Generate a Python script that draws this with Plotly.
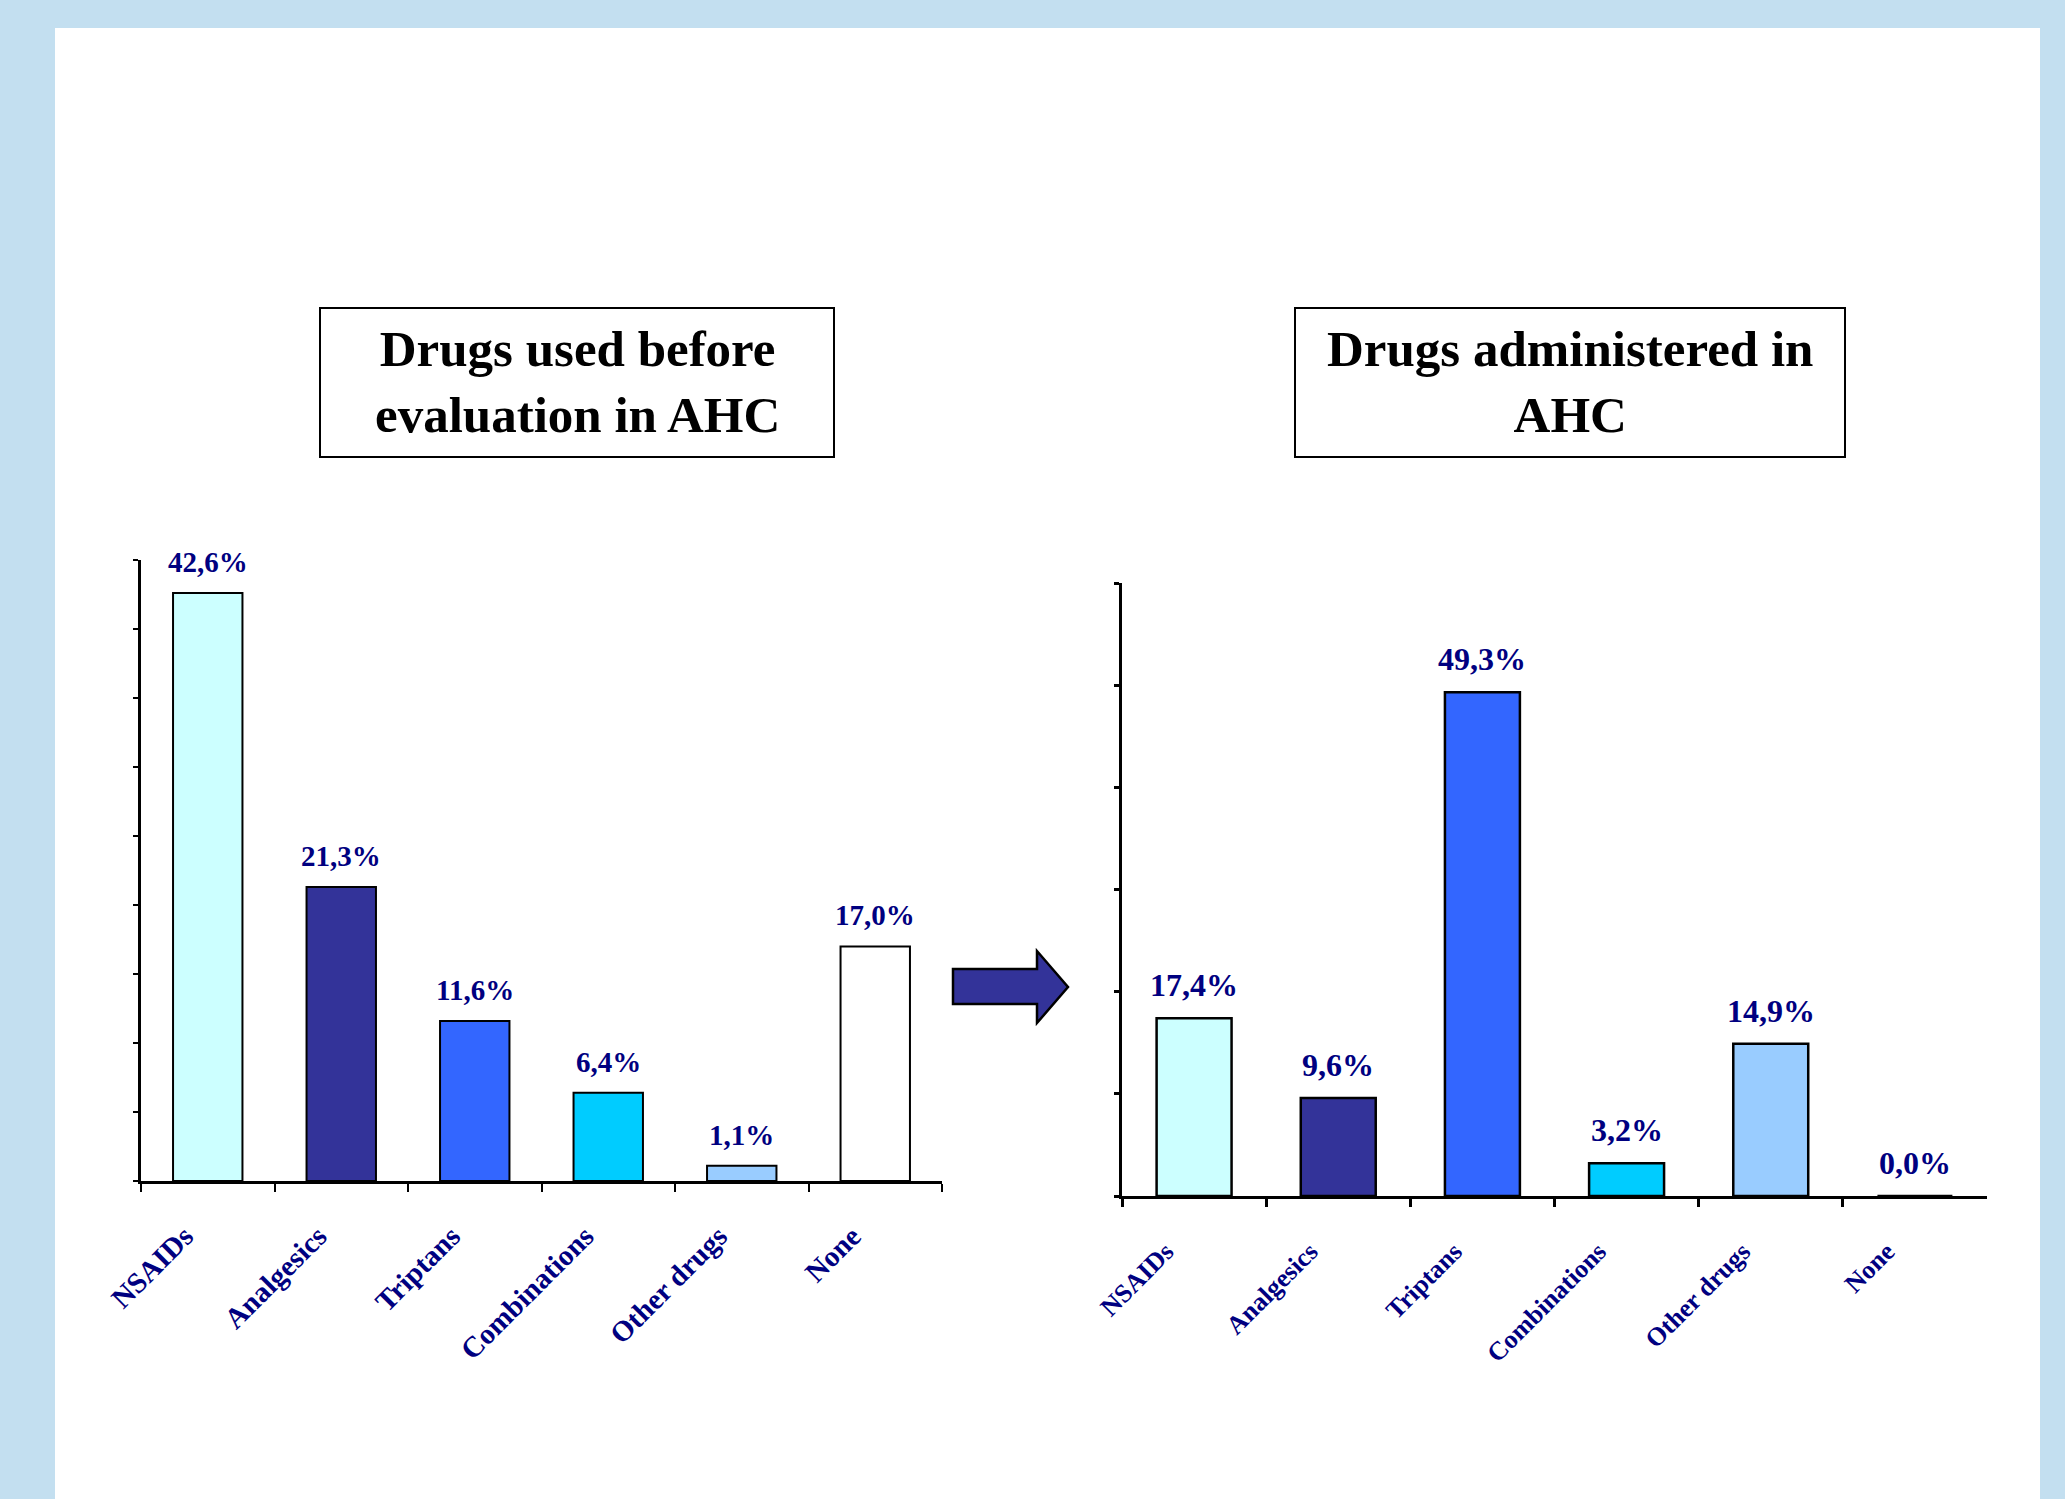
import plotly.graph_objects as go

# ---- data -------------------------------------------------------------
categories = ["NSAIDs", "Analgesics", "Triptans", "Combinations", "Other drugs", "None"]
before_pct = [42.6, 21.3, 11.6, 6.4, 1.1, 17.0]   # drugs used before evaluation in AHC
after_pct = [17.4, 9.6, 49.3, 3.2, 14.9, 0.0]     # drugs administered in AHC
bar_colors = ["#CCFFFF", "#333399", "#3366FF", "#00CCFF", "#99CCFF", "#FFFFFF"]

title_left = "Drugs used before<br>evaluation in AHC"
title_right = "Drugs administered in<br>AHC"

# ---- canvas helpers (pixel -> paper fraction) -------------------------
W, H = 2065, 1499


def fx(px):
    return px / W


def fy(py):
    return 1 - py / H


SERIF = "Liberation Serif"
NAVY = "#000080"
BAND = "#C3DFF0"


def pct_label(v):
    return f"{v:.1f}".replace(".", ",") + "%"


fig = go.Figure()

fig.add_trace(go.Bar(
    x=categories, y=before_pct, xaxis="x", yaxis="y",
    marker=dict(color=bar_colors, line=dict(color="black", width=2)),
    showlegend=False, hoverinfo="skip",
))
fig.add_trace(go.Bar(
    x=categories, y=after_pct, xaxis="x2", yaxis="y2",
    marker=dict(color=bar_colors, line=dict(color="black", width=2.5)),
    showlegend=False, hoverinfo="skip",
))

annotations = []
for cat, v in zip(categories, before_pct):
    annotations.append(dict(
        x=cat, y=v, xref="x", yref="y", text=pct_label(v), showarrow=False,
        yanchor="bottom", yshift=13,
        font=dict(family=SERIF, size=29, color=NAVY, weight="bold"),
    ))
for cat, v in zip(categories, after_pct):
    annotations.append(dict(
        x=cat, y=v, xref="x2", yref="y2", text=pct_label(v), showarrow=False,
        yanchor="bottom", yshift=13,
        font=dict(family=SERIF, size=32, color=NAVY, weight="bold"),
    ))

# boxed panel titles
for text, (x0, x1, y0, y1) in [
    (title_left, (320, 834, 308, 457)),
    (title_right, (1295, 1845, 308, 457)),
]:
    annotations.append(dict(
        x=fx((x0 + x1) / 2), y=fy((y0 + y1) / 2), xref="paper", yref="paper",
        text=text, showarrow=False, xanchor="center", yanchor="middle", align="center",
        font=dict(family=SERIF, size=51, color="black", weight="bold"),
    ))

shapes = [
    # white panel over the light-blue frame
    dict(type="rect", xref="paper", yref="paper", x0=fx(55), x1=fx(2040), y0=fy(1499), y1=fy(28),
         fillcolor="white", line=dict(width=0), layer="below"),
    dict(type="rect", xref="paper", yref="paper", x0=fx(320), x1=fx(834), y0=fy(457), y1=fy(308),
         fillcolor="rgba(0,0,0,0)", line=dict(color="black", width=2)),
    dict(type="rect", xref="paper", yref="paper", x0=fx(1295), x1=fx(1845), y0=fy(457), y1=fy(308),
         fillcolor="rgba(0,0,0,0)", line=dict(color="black", width=2)),
]

# block arrow between the two panels
arrow_pts = [(953, 969), (1037, 969), (1037, 951), (1068, 987),
             (1037, 1023), (1037, 1004), (953, 1004)]
path = "M " + " L ".join(f"{fx(x):.5f},{fy(y):.5f}" for x, y in arrow_pts) + " Z"
shapes.append(dict(type="path", xref="paper", yref="paper", path=path,
                   fillcolor="#333399", line=dict(color="black", width=2.5)))

xaxis_common = dict(
    type="category", showline=True, linecolor="black", ticks="outside",
    tickson="boundaries", ticklen=8, tickcolor="black", tickangle=-45,
    showgrid=False, zeroline=False, fixedrange=True, automargin=False,
)
yaxis_common = dict(
    showline=True, linecolor="black", ticks="outside", ticklen=5, tickcolor="black",
    showticklabels=False, showgrid=False, zeroline=False, fixedrange=True, automargin=False,
)

fig.update_layout(
    width=W, height=H, autosize=False,
    margin=dict(l=0, r=0, t=0, b=0, pad=0),
    paper_bgcolor=BAND, plot_bgcolor="rgba(0,0,0,0)",
    bargap=0.48,
    xaxis=dict(**xaxis_common, domain=[fx(141), fx(942)], anchor="y", linewidth=2.5, tickwidth=2,
               tickfont=dict(family=SERIF, size=29, color=NAVY, weight="bold"),
               ticklabelstandoff=24, ticklabelshift=-23),
    yaxis=dict(**yaxis_common, domain=[fy(1181), fy(560)], anchor="x", range=[0, 45], dtick=5,
               linewidth=2.5, tickwidth=2),
    xaxis2=dict(**xaxis_common, domain=[fx(1122), fx(1987)], anchor="y2", linewidth=3, tickwidth=2.5,
                tickfont=dict(family=SERIF, size=26, color=NAVY, weight="bold"),
                ticklabelstandoff=27, ticklabelshift=-28),
    yaxis2=dict(**yaxis_common, domain=[fy(1196), fy(583)], anchor="x2", range=[0, 60], dtick=10,
                linewidth=3, tickwidth=2.5),
    annotations=annotations,
    shapes=shapes,
)

fig.write_html("out.html")
